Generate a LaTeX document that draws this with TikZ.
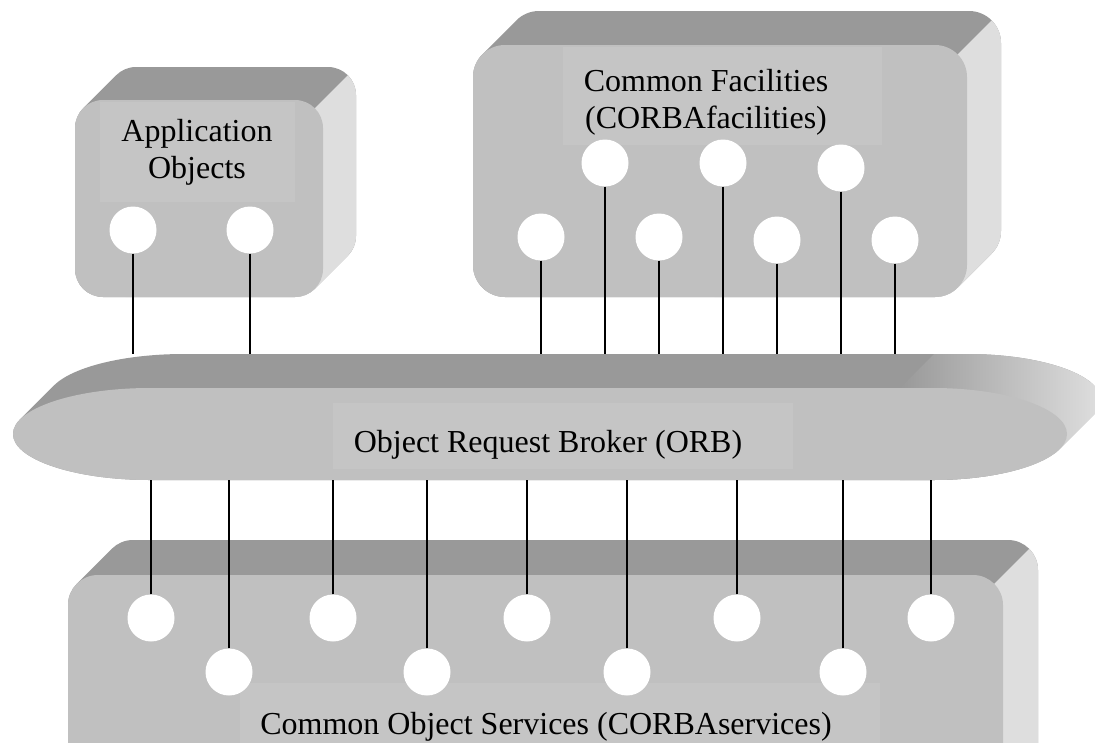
\documentclass[tikz,border=0pt]{standalone}
\usepackage{fontspec}
\setmainfont{Liberation Serif}
\definecolor{facefront}{HTML}{C0C0C0}
\definecolor{facetop}{HTML}{999999}
\definecolor{faceside}{HTML}{DEDEDE}
\definecolor{labelbg}{HTML}{C5C5C5}

% union of a rounded front face swept back along the depth direction
\newcommand\sweepbox[5]{%
  \foreach \k in {0,0.5,...,#5}{(#1+\k,#2-\k) rectangle (#3+\k,#4-\k)}}

% extruded rounded box: front corners (#1,#2)-(#3,#4), depth #5, corner radius #6
\newcommand\solidbox[6]{%
  \fill[facetop, rounded corners=#6pt] \sweepbox{#1}{#2}{#3}{#4}{#5};
  \begin{scope}
    \pgfmathsetmacro\px{#3-0.2929*#6}
    \pgfmathsetmacro\py{#2+0.2929*#6}
    \clip (\px+80,\py-80) -- (\px+600,\py-80) -- (\px+600,\py+600)
          -- (\px-600,\py+600) -- cycle;
    \fill[faceside, rounded corners=#6pt] \sweepbox{#1}{#2}{#3}{#4}{#5};
  \end{scope}
  \fill[facefront, rounded corners=#6pt] (#1,#2) rectangle (#3,#4);
}

% outline of the broker bar, shifted by #1 along the depth direction
\newcommand\orbpath[1]{%
  (150+#1,388-#1) -- (933+#1,388-#1)
  arc[start angle=-90, end angle=90, x radius=134, y radius=46]
  -- (150+#1,480-#1)
  arc[start angle=90, end angle=270, x radius=137, y radius=46] -- cycle}

\tikzset{
  port/.style={circle, fill=white, minimum size=47pt, inner sep=0pt},
  wire/.style={line width=1.4pt, black},
  lbl/.style={font=\fontsize{32pt}{37pt}\selectfont, align=center, inner sep=0pt},
}

\begin{document}
\begin{tikzpicture}[x=1pt, y=-1pt]
  \useasboundingbox (0,0) rectangle (1095,742);
  \fill[white] (0,0) rectangle (1095,742);

  % application objects
  \solidbox{75}{100}{323}{297}{33}{28}
  \fill[labelbg] (100,102) rectangle (295,202);
  \node[lbl] (appl) at (197,152) {Application\\Objects};

  % common facilities
  \solidbox{473}{45}{967}{297}{34}{32}
  \fill[labelbg] (563,47) rectangle (882,145);
  \node[lbl] (facl) at (706,102) {Common Facilities\\(CORBAfacilities)};

  % object request broker
  \fill[facetop] \foreach \k in {0,0.5,...,34}{\orbpath{\k}};
  \begin{scope}
    \clip (960,328) -- (1200,328) -- (1200,700) -- (600,688) -- cycle;
    \clip \foreach \k in {0,0.5,...,34}{\orbpath{\k}};
    \shade[left color=facetop, right color=faceside] (900,340) rectangle (1100,500);
  \end{scope}
  \fill[facefront] \orbpath{0};
  \fill[labelbg] (333,403) rectangle (793,469);
  \node[lbl, anchor=base] (orbl) at (548,452) {Object Request Broker (ORB)};
  \coordinate (orbT) at (0,354);
  \coordinate (orbB) at (0,480);

  % common object services
  \solidbox{68}{575}{1003}{820}{35}{30}
  \fill[labelbg] (240,683) rectangle (880,760);
  \node[lbl, anchor=base] (cosl) at (546,734) {Common Object Services (CORBAservices)};

  % interface ports
  \node[port] (a1) at (133,230) {};
  \node[port] (a2) at (250,230) {};

  \node[port] (f1) at (605,163) {};
  \node[port] (f2) at (723,163) {};
  \node[port] (f3) at (841,168) {};
  \node[port] (f4) at (541,237) {};
  \node[port] (f5) at (659,237) {};
  \node[port] (f6) at (777,240) {};
  \node[port] (f7) at (895,240) {};

  \node[port] (s1) at (151,618) {};
  \node[port] (s2) at (333,618) {};
  \node[port] (s3) at (527,618) {};
  \node[port] (s4) at (737,618) {};
  \node[port] (s5) at (931,618) {};
  \node[port] (s6) at (229,672) {};
  \node[port] (s7) at (427,672) {};
  \node[port] (s8) at (627,672) {};
  \node[port] (s9) at (843,672) {};

  % connections to the broker
  \foreach \p in {a1,a2,f1,f2,f3,f4,f5,f6,f7}
    \draw[wire] (\p.south) -- (\p.south |- orbT);
  \foreach \p in {s1,s2,s3,s4,s5,s6,s7,s8,s9}
    \draw[wire] (\p.north) -- (\p.north |- orbB);
\end{tikzpicture}
\end{document}
